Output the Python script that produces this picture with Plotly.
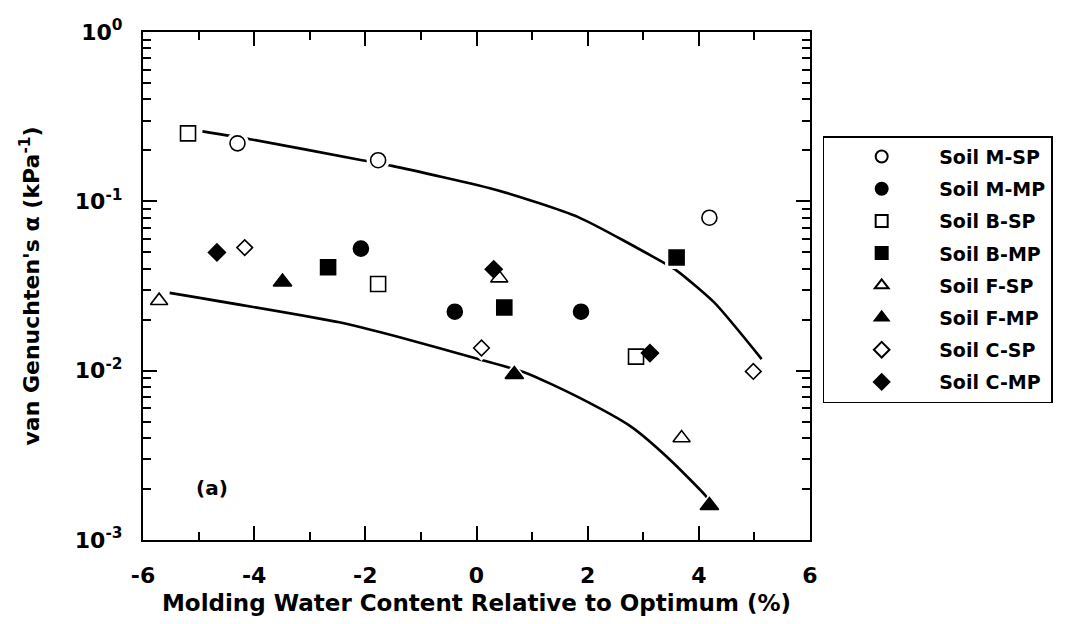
import plotly.graph_objects as go

# ---- data ----
series_names = ["Soil M-SP", "Soil M-MP", "Soil B-SP", "Soil B-MP",
                "Soil F-SP", "Soil F-MP", "Soil C-SP", "Soil C-MP"]

m_sp_x = [-4.30, -1.77, 4.19]
m_sp_y = [0.220, 0.175, 0.080]
m_mp_x = [-2.08, -0.39, 1.88]
m_mp_y = [0.0526, 0.0223, 0.0223]
b_sp_x = [-5.19, -1.77, 2.87]
b_sp_y = [0.252, 0.0325, 0.0121]
b_mp_x = [-2.67, 0.50, 3.60]
b_mp_y = [0.0408, 0.0236, 0.0466]
f_sp_x = [-5.71, 0.41, 3.69]
f_sp_y = [0.0259, 0.0352, 0.0040]
f_mp_x = [-3.49, 0.68, 4.19]
f_mp_y = [0.0334, 0.0095, 0.0016]
c_sp_x = [-4.17, 0.09, 4.98]
c_sp_y = [0.0533, 0.0136, 0.0099]
c_mp_x = [-4.67, 0.31, 3.12]
c_mp_y = [0.0499, 0.0397, 0.0127]

upper_fit_x = [-4.93, -4.05, -2.06, -1.52, 0.39, 1.83, 3.35, 3.62, 4.28, 5.13]
upper_fit_y = [0.259, 0.232, 0.175, 0.162, 0.116, 0.0807, 0.0437, 0.0386, 0.0252, 0.0117]
lower_fit_x = [-5.52, -2.47, -1.40, -0.05, 0.88, 1.83, 2.78, 3.49, 4.12, 4.22]
lower_fit_y = [0.0288, 0.0193, 0.0158, 0.0119, 0.00973, 0.00697, 0.00467, 0.00296, 0.00183, 0.00166]

x_tick_vals = [-6, -4, -2, 0, 2, 4, 6]
x_tick_text = ["-6", "-4", "-2", "0", "2", "4", "6"]
y_tick_vals = [0.001, 0.01, 0.1, 1]
y_tick_text = ["10<sup>-3</sup>", "10<sup>-2</sup>", "10<sup>-1</sup>", "10<sup>0</sup>"]

# ---- styles ----
styles = [
    dict(symbol="circle", color="white", size=15),
    dict(symbol="circle", color="black", size=15),
    dict(symbol="square", color="white", size=15),
    dict(symbol="square", color="black", size=15),
    dict(symbol="triangle-up", color="white", size=15),
    dict(symbol="triangle-up", color="black", size=16),
    dict(symbol="diamond", color="white", size=12),
    dict(symbol="diamond", color="black", size=13),
]
xs = [m_sp_x, m_mp_x, b_sp_x, b_mp_x, f_sp_x, f_mp_x, c_sp_x, c_mp_x]
ys = [m_sp_y, m_mp_y, b_sp_y, b_mp_y, f_sp_y, f_mp_y, c_sp_y, c_mp_y]

FONT = "DejaVu Sans"
fig = go.Figure()

for fx, fy in [(upper_fit_x, upper_fit_y), (lower_fit_x, lower_fit_y)]:
    fig.add_trace(go.Scatter(x=fx, y=fy, mode="lines",
                             line=dict(color="black", width=2.6, shape="spline", smoothing=0.6),
                             showlegend=False, hoverinfo="skip"))

# white halos to break the fit lines around the markers
for x, y, st in zip(xs, ys, styles):
    fig.add_trace(go.Scatter(x=x, y=y, mode="markers", showlegend=False, hoverinfo="skip",
                             marker=dict(symbol=st["symbol"], size=st["size"] + 8, color="white",
                                         line=dict(width=0))))

for i, (name, x, y, st) in enumerate(zip(series_names, xs, ys, styles)):
    fig.add_trace(go.Scatter(x=x, y=y, mode="markers", name=name, legendgroup=name,
                             marker=dict(symbol=st["symbol"], size=st["size"], color=st["color"],
                                         line=dict(color="black", width=1.6))))

fig.add_annotation(x=-4.76, y=-2.69, xref="x", yref="y", text="<b>(a)</b>", showarrow=False,
                   font=dict(family=FONT, size=20, color="black"))

axis_common = dict(showline=True, linecolor="black", linewidth=2.2, mirror="ticks",
                   ticks="inside", tickcolor="black", tickwidth=2, ticklen=14,
                   showgrid=False, zeroline=False,
                   tickfont=dict(family=FONT, size=22, color="black", weight="bold"))

fig.update_xaxes(range=[-6, 6], tickvals=x_tick_vals, ticktext=x_tick_text, ticklabelstandoff=14,
                 minor=dict(ticks="inside", dtick=1, ticklen=8, tickwidth=2, tickcolor="black", showgrid=False),
                 title=dict(text="Molding Water Content Relative to Optimum (%)",
                            font=dict(family=FONT, size=23, color="black", weight="bold"), standoff=8),
                 **axis_common)
fig.update_yaxes(type="log", range=[-3, 0], tickvals=y_tick_vals, ticktext=y_tick_text, ticklabelstandoff=14,
                 minor=dict(ticks="inside", dtick="D1", ticklen=8, tickwidth=2, tickcolor="black", showgrid=False),
                 title=dict(text="van Genuchten's α (kPa<sup>-1</sup>)",
                            font=dict(family=FONT, size=22, color="black", weight="bold"), standoff=29),
                 **axis_common)

fig.update_layout(
    width=1065, height=624,
    margin=dict(l=143, r=252, t=32, b=76),
    plot_bgcolor="white", paper_bgcolor="white",
    legend=dict(x=1.019, y=0.795, xanchor="left", yanchor="top",
                bordercolor="black", borderwidth=1.5, bgcolor="white",
                font=dict(family=FONT, size=19, color="black", weight="bold"),
                tracegroupgap=4.5, itemwidth=105, itemsizing="constant"),
)

fig.write_html("out.html")
